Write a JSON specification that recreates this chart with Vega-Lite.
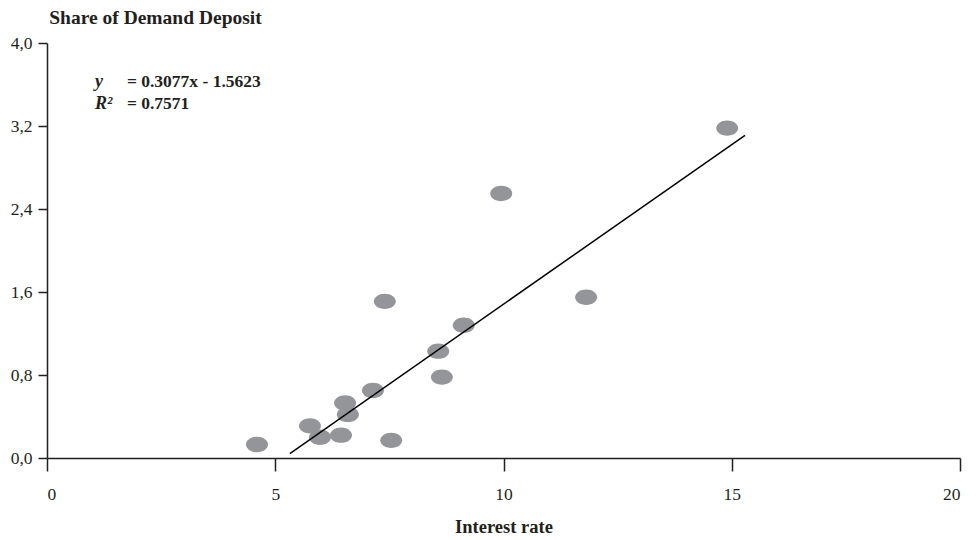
{
  "$schema": "https://vega.github.io/schema/vega-lite/v6.json",
  "width": 913,
  "height": 415,
  "autosize": "none",
  "padding": {"left": 47, "top": 43, "right": 19, "bottom": 82},
  "background": "white",
  "config": {
    "locale": {"number": {"decimal": ",", "thousands": ".", "grouping": [3], "currency": ["", ""]}},
    "view": {"stroke": null},
    "font": "Liberation Serif",
    "axis": {"grid": false, "domainColor": "#231f20", "domainWidth": 1.5, "tickColor": "#231f20", "tickWidth": 1.5, "labelFont": "Liberation Serif", "labelFontSize": 17.5, "labelColor": "#231f20", "titleFont": "Liberation Serif", "titleFontSize": 18.5, "titleFontWeight": "bold", "titleColor": "#231f20"}
  },
  "datasets": {
    "points": [
      {"rate": 4.60, "share": 0.13},
      {"rate": 5.76, "share": 0.31},
      {"rate": 5.98, "share": 0.20},
      {"rate": 6.44, "share": 0.22},
      {"rate": 6.53, "share": 0.53},
      {"rate": 6.59, "share": 0.42},
      {"rate": 7.14, "share": 0.65},
      {"rate": 7.40, "share": 1.51},
      {"rate": 7.54, "share": 0.17},
      {"rate": 8.57, "share": 1.03},
      {"rate": 8.65, "share": 0.78},
      {"rate": 9.13, "share": 1.28},
      {"rate": 9.95, "share": 2.55},
      {"rate": 11.81, "share": 1.55},
      {"rate": 14.90, "share": 3.18}
    ],
    "fit": [
      {"rate": 5.32, "share": 0.043},
      {"rate": 15.29, "share": 3.11}
    ],
    "annot": [
      {"sym": "y", "eq": "= 0.3077x - 1.5623", "row": 3.62},
      {"sym": "R²", "eq": "= 0.7571", "row": 3.41}
    ]
  },
  "layer": [
    {
      "data": {"name": "points"},
      "mark": {"type": "point", "filled": true, "shape": "M-1,0A1,0.7,0,1,1,1,0A1,0.7,0,1,1,-1,0Z", "size": 484, "color": "#939598", "opacity": 1},
      "encoding": {
        "x": {"field": "rate", "type": "quantitative", "scale": {"domain": [0, 20], "nice": false},
          "axis": {"values": [0, 5, 10, 15, 20], "tickSize": 13, "labelPadding": 14, "title": "Interest rate", "titleY": 74, "titleBaseline": "alphabetic"}},
        "y": {"field": "share", "type": "quantitative", "scale": {"domain": [0, 4], "nice": false},
          "axis": {"values": [0, 0.8, 1.6, 2.4, 3.2, 4.0], "format": ".1f", "tickSize": 9, "labelPadding": 6, "title": "Share of Demand Deposit", "titleFontSize": 19.5, "titleAngle": 0, "titleAlign": "center", "titleX": 108, "titleY": -20, "titleBaseline": "alphabetic"}}
      }
    },
    {
      "data": {"name": "fit"},
      "mark": {"type": "line", "color": "#000000", "strokeWidth": 1.5},
      "encoding": {
        "x": {"field": "rate", "type": "quantitative"},
        "y": {"field": "share", "type": "quantitative"}
      }
    },
    {
      "data": {"name": "annot"},
      "mark": {"type": "text", "font": "Liberation Serif", "fontSize": 18, "fontWeight": "bold", "fontStyle": "italic", "align": "left", "baseline": "middle", "color": "#231f20"},
      "encoding": {"x": {"datum": 1.05}, "y": {"field": "row", "type": "quantitative"}, "text": {"field": "sym"}}
    },
    {
      "data": {"name": "annot"},
      "mark": {"type": "text", "font": "Liberation Serif", "fontSize": 17.5, "fontWeight": "bold", "align": "left", "baseline": "middle", "color": "#231f20"},
      "encoding": {"x": {"datum": 1.75}, "y": {"field": "row", "type": "quantitative"}, "text": {"field": "eq"}}
    }
  ]
}
